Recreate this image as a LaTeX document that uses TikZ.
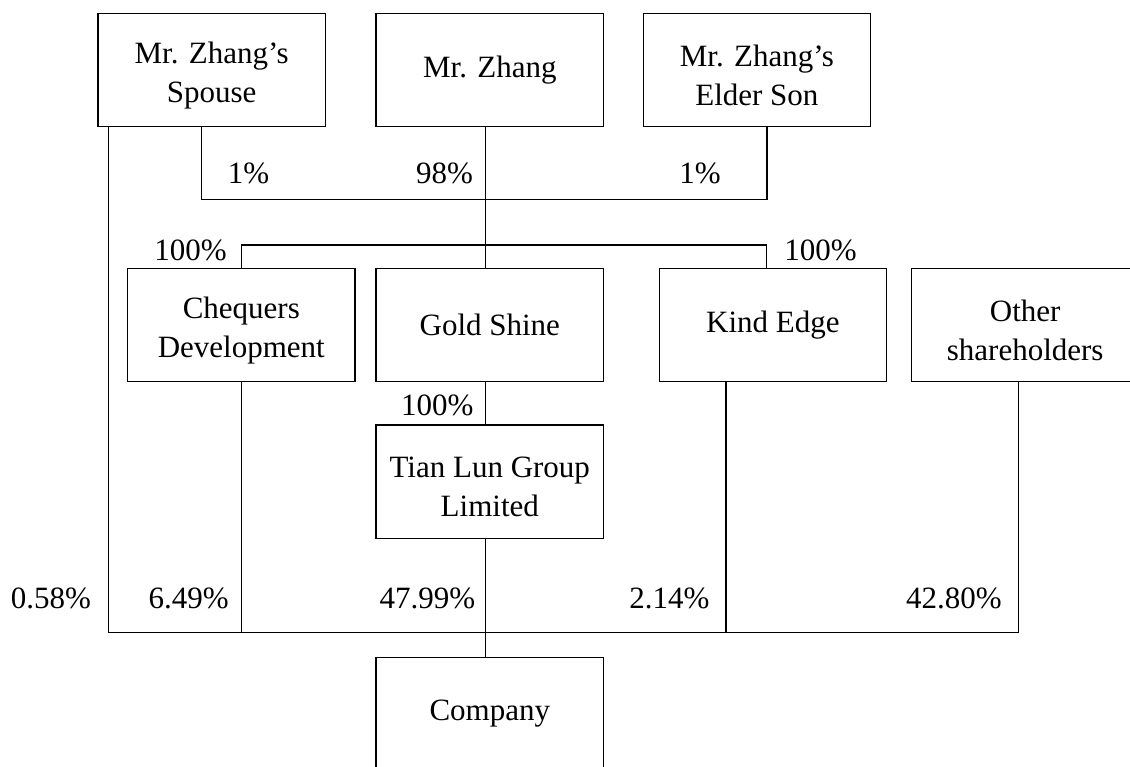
\documentclass[tikz,border=0pt]{standalone}
\usepackage{fontspec}
\setmainfont{Liberation Serif}
\usetikzlibrary{calc}
\newcommand{\firstrow}{\rule{0pt}{15.8pt}}

\begin{document}
\begin{tikzpicture}[x=0.5pt,y=-0.5pt,
    box/.style={draw,line width=0.6pt,minimum width=113.75pt,minimum height=56.7pt,
      inner sep=0pt,align=center,font=\fontsize{15.5}{19.5}\selectfont},
    pct/.style={anchor=base,inner sep=0pt,font=\fontsize{15.5}{19.5}\selectfont},
    link/.style={line width=0.6pt}]
  \useasboundingbox (0,0) rectangle (1130,766);

  % owners
  \node[box] (spouse) at (211.7,70) {\firstrow Mr. Zhang's\\Spouse};
  \node[box] (zhang) at (489.8,70) {Mr. Zhang};
  \node[box] (son) at (756.9,70) {\firstrow Mr. Zhang's\\Elder Son};

  % holding companies
  \node[box] (chequers) at (241.3,325) {\firstrow Chequers\\Development};
  \node[box] (gold) at (489.8,325) {Gold Shine};
  \node[box] (kind) at (772.9,325) {Kind Edge};
  \node[box] (other) at (1025.2,325) {\firstrow Other\\shareholders};
  \node[box] (tianlun) at (489.8,481.7) {\firstrow Tian Lun Group\\Limited};
  \node[box] (company) at (489.8,714) {Company};

  \coordinate (topbus) at (485.3,199.3);
  \coordinate (midbus) at (485.3,245);
  \coordinate (lowbus) at (485.3,632.3);

  \draw[link] ($(spouse.south)+(-10,0)$) |- (topbus) -| ($(son.south)+(10,0)$);
  \draw[link] ($(zhang.south)+(-4.5,0)$) -- ($(gold.north)+(-4.5,0)$);
  \draw[link] (chequers.north) |- (midbus) -| ($(kind.north)+(-6.8,0)$);
  \draw[link] ($(gold.south)+(-4.5,0)$) -- ($(tianlun.north)+(-4.5,0)$);
  \draw[link] ($(tianlun.south)+(-4.5,0)$) -- ($(company.north)+(-4.5,0)$);

  \draw[link] ($(spouse.south west)+(10.8,0)$) |- (lowbus) -| ($(other.south)+(-7,0)$);
  \draw[link] (chequers.south) -- (chequers.south |- lowbus);
  \path ($(kind.south)+(-47,0)$) coordinate (kindfoot);
  \draw[link] (kindfoot) -- (kindfoot |- lowbus);

  % shares
  \node[pct] (s1) at (248.6,183) {1\%};
  \node[pct] (s2) at (444.5,183) {98\%};
  \node[pct] (s3) at (700,183) {1\%};
  \node[pct] (s4) at (190.6,260) {100\%};
  \node[pct] (s5) at (820.5,260) {100\%};
  \node[pct] (s6) at (437.3,415) {100\%};
  \node[pct] (s7) at (50.8,608.3) {0.58\%};
  \node[pct] (s8) at (188.6,608.3) {6.49\%};
  \node[pct] (s9) at (427.4,608.3) {47.99\%};
  \node[pct] (s10) at (669.5,608.3) {2.14\%};
  \node[pct] (s11) at (954,608.3) {42.80\%};
\end{tikzpicture}
\end{document}
